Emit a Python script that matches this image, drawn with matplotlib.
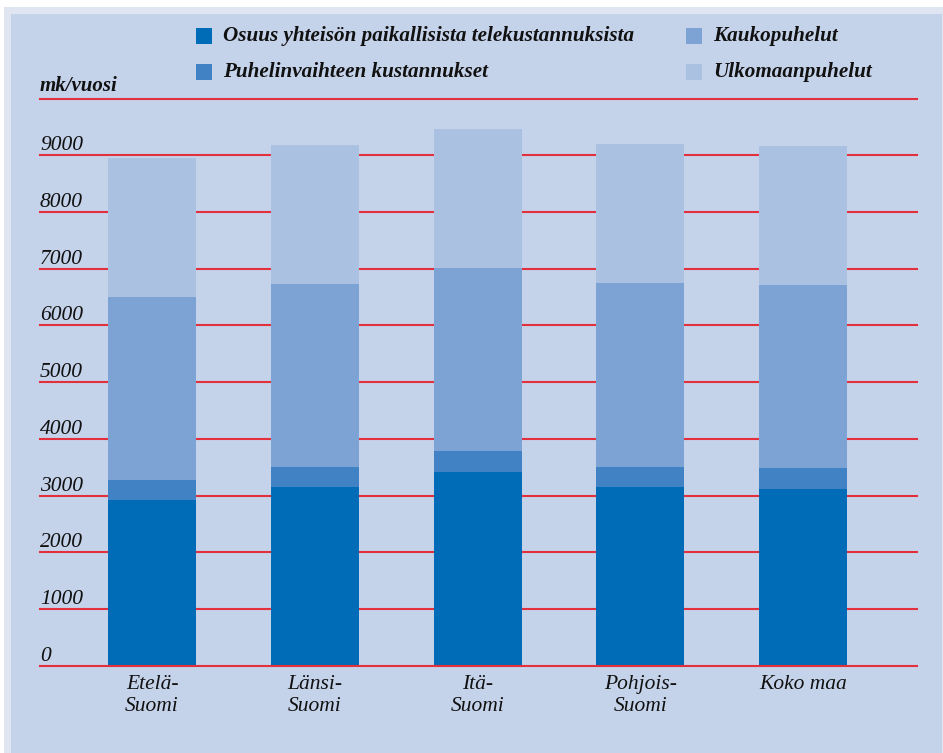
import matplotlib
matplotlib.use("Agg")
import matplotlib.pyplot as plt
from matplotlib.patches import Rectangle

W, H = 943, 753

categories = ["Etelä-\nSuomi", "Länsi-\nSuomi", "Itä-\nSuomi", "Pohjois-\nSuomi", "Koko maa"]
series_names = ["Osuus yhteisön paikallisista telekustannuksista",
                "Puhelinvaihteen kustannukset",
                "Kaukopuhelut",
                "Ulkomaanpuhelut"]
osuus = [2920, 3150, 3415, 3150, 3120]
vaihde = [355, 350, 370, 350, 365]
kauko = [3225, 3230, 3225, 3245, 3225]
ulko = [2450, 2450, 2450, 2450, 2450]
yticks = [0, 1000, 2000, 3000, 4000, 5000, 6000, 7000, 8000, 9000, 10000]
ytick_labels = ["0", "1000", "2000", "3000", "4000", "5000", "6000", "7000", "8000", "9000", ""]
unit_label = "mk/vuosi"

colors = ["#006bb6", "#4182c4", "#7da2d4", "#abc1e2"]
panel = "#c5d3ea"
frame = "#dfe6f2"
red = "#e2303c"
FONT = "Liberation Serif"

fig = plt.figure(figsize=(W / 100, H / 100), dpi=100, facecolor="white")

def fx(px):
    return px / W

def fy(py):
    return 1 - py / H

# frame and panel
fig.patches.append(Rectangle((fx(4), 0), 1 - fx(4), fy(7), transform=fig.transFigure,
                             facecolor=frame, edgecolor="none", zorder=-10))
fig.patches.append(Rectangle((fx(11), 0), fx(942) - fx(11), fy(14), transform=fig.transFigure,
                             facecolor=panel, edgecolor="none", zorder=-9))

# axes
x0, x1 = 40, 917
y0, y1 = 665.8, 98.6
ax = fig.add_axes([fx(x0), fy(y0), fx(x1) - fx(x0), (y0 - y1) / H])
ax.set_facecolor("none")
ax.patch.set_visible(False)
for s in ax.spines.values():
    s.set_visible(False)

unit = 162.75
xl = -112 / unit
xr = 4 + (877 - 763) / unit
ax.set_xlim(xl, xr)
ax.set_ylim(0, 10000)
ax.set_xticks([])
ax.set_yticks([])

xs = list(range(len(categories)))
bw = 88 / unit
bottoms = [0] * len(xs)
for vals, c in zip([osuus, vaihde, kauko, ulko], colors):
    ax.bar(xs, vals, width=bw, bottom=bottoms, color=c, edgecolor="none", zorder=2)
    bottoms = [b + v for b, v in zip(bottoms, vals)]

for yv in yticks:
    ax.axhline(yv, color=red, lw=1.5, zorder=3 if yv == 0 else 1, clip_on=False)

for yv, lab in zip(yticks, ytick_labels):
    if lab:
        ax.annotate(lab, xy=(xl, yv), xytext=(0, 5), textcoords="offset pixels",
                    ha="left", va="baseline", fontsize=15.5, style="italic",
                    family=FONT, color="#111111")

for x, lab in zip(xs, categories):
    ax.annotate(lab, xy=(x, 0), xytext=(0, -9), textcoords="offset pixels",
                ha="center", va="top", fontsize=15.5, style="italic",
                family=FONT, color="#111111", linespacing=1.2)

# unit label
fig.text(fx(40), fy(91), unit_label, ha="left", va="baseline", fontsize=15,
         style="italic", weight="bold", family=FONT, color="#111111")

# legend
leg_pos = [(196, 36), (196, 72), (686, 36), (686, 72)]
for (px, py), name, c in zip(leg_pos, series_names, colors):
    fig.patches.append(Rectangle((fx(px), fy(py + 8)), 16 / W, 16 / H,
                                 transform=fig.transFigure, facecolor=c, edgecolor="none"))
    fig.text(fx(px + 27), fy(py), name, ha="left", va="center", fontsize=15.2,
             style="italic", weight="bold", family=FONT, color="#111111")

fig.savefig("out.png", dpi=100, facecolor="white")
